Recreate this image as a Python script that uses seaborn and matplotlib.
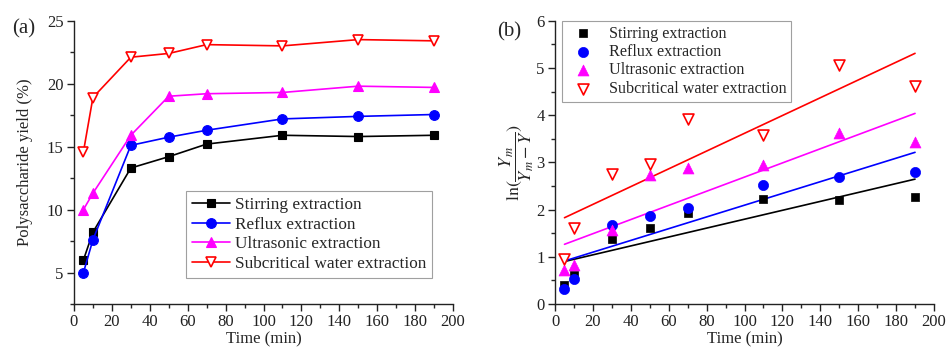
import numpy as np
import pandas as pd
import matplotlib
matplotlib.use("Agg")
import matplotlib.pyplot as plt
from matplotlib.ticker import MultipleLocator
import seaborn as sns

# ---------------- data ----------------
time = [5, 10, 30, 50, 70, 110, 150, 190]
series_names = ["Stirring extraction", "Reflux extraction",
                "Ultrasonic extraction", "Subcritical water extraction"]

# (a) polysaccharide yield (%)
yield_stirring = [6.0, 8.2, 13.3, 14.2, 15.2, 15.9, 15.8, 15.9]
yield_reflux = [5.0, 7.6, 15.1, 15.75, 16.3, 17.2, 17.4, 17.55]
yield_ultra = [10.0, 11.3, 15.9, 19.0, 19.2, 19.3, 19.8, 19.7]
yield_subcrit = [14.6, 18.9, 22.1, 22.4, 23.1, 23.0, 23.5, 23.4]

# (b) ln(Ym/(Ym-Y))
ln_stirring = [0.41, 0.61, 1.37, 1.60, 1.93, 2.23, 2.21, 2.26]
ln_reflux = [0.32, 0.53, 1.67, 1.86, 2.04, 2.53, 2.70, 2.79]
ln_ultra = [0.72, 0.82, 1.56, 2.74, 2.89, 2.95, 3.62, 3.43]
ln_subcrit = [0.96, 1.60, 2.75, 2.97, 3.91, 3.57, 5.06, 4.62]

yields = [yield_stirring, yield_reflux, yield_ultra, yield_subcrit]
lns = [ln_stirring, ln_reflux, ln_ultra, ln_subcrit]

colors = ["#000000", "#0000FF", "#FF00FF", "#FF0000"]
markers = ["s", "o", "^", "v"]
faces = ["#000000", "#0000FF", "#FF00FF", "white"]
msizes = [6, 7, 7.5, 7.5]

# ---------------- style ----------------
sns.set_theme(style="ticks")
plt.rcParams["font.family"] = ["Liberation Serif", "DejaVu Serif"]
plt.rcParams["mathtext.fontset"] = "stix"
plt.rcParams["axes.linewidth"] = 1.0

fig = plt.figure(figsize=(9.46, 3.57), dpi=100)
ax1 = fig.add_axes([0.0782, 0.1485, 0.4007, 0.7935])
ax2 = fig.add_axes([0.5867, 0.1485, 0.4006, 0.7935])

# ---------------- (a) ----------------
for name, y, c, m, fc, ms in zip(series_names, yields, colors, markers, faces, msizes):
    df = pd.DataFrame({"Time": time, "Value": y})
    sns.lineplot(data=df, x="Time", y="Value", ax=ax1, color=c, marker=m,
                 markersize=ms, markerfacecolor=fc, markeredgecolor=c,
                 markeredgewidth=1.2 if fc == "white" else 0.8,
                 linewidth=1.2, label=name, errorbar=None)

ax1.set_xlim(0, 200)
ax1.set_ylim(2.5, 25)
ax1.xaxis.set_major_locator(MultipleLocator(20))
ax1.xaxis.set_minor_locator(MultipleLocator(10))
ax1.yaxis.set_major_locator(MultipleLocator(5))
ax1.yaxis.set_minor_locator(MultipleLocator(2.5))
ax1.set_xlabel("Time (min)", fontsize=12, labelpad=1)
ax1.set_ylabel("Polysaccharide yield (%)", fontsize=12, labelpad=10)
leg1 = ax1.legend(loc="lower right", bbox_to_anchor=(0.945, 0.092), fontsize=12.4,
                  frameon=True, fancybox=False, edgecolor="#888888",
                  handlelength=2.2, handletextpad=0.3, borderpad=0.35,
                  labelspacing=0.2, numpoints=1, borderaxespad=0)
leg1.get_frame().set_linewidth(0.8)
fig.text(0.013, 0.92, "(a)", fontsize=15, ha="left", va="center")

# ---------------- (b) ----------------
for name, y, c, m, fc, ms in zip(series_names, lns, colors, markers, faces, msizes):
    df = pd.DataFrame({"Time": time, "Value": y})
    sns.scatterplot(data=df, x="Time", y="Value", ax=ax2, color=fc, marker=m,
                    s=ms ** 2 * 1.1, edgecolor=c,
                    linewidth=1.2 if fc == "white" else 0.5, label=name, zorder=3)
    sns.regplot(data=df, x="Time", y="Value", ax=ax2, scatter=False, ci=None,
                truncate=True, line_kws=dict(color=c, linewidth=1.2))

ax2.set_xlim(0, 200)
ax2.set_ylim(0, 6)
ax2.xaxis.set_major_locator(MultipleLocator(20))
ax2.xaxis.set_minor_locator(MultipleLocator(10))
ax2.yaxis.set_major_locator(MultipleLocator(1))
ax2.yaxis.set_minor_locator(MultipleLocator(0.5))
ax2.set_xlabel("Time (min)", fontsize=12, labelpad=1)
ax2.set_ylabel(r"$\ln(\dfrac{Y_m}{Y_m-Y})$", fontsize=13, labelpad=0)
leg2 = ax2.legend(loc="upper left", bbox_to_anchor=(0.018, 1.0), fontsize=11.6,
                  frameon=True, fancybox=False, edgecolor="#888888",
                  handlelength=2.0, handletextpad=0.6, borderpad=0.3,
                  labelspacing=0.15, scatterpoints=1, borderaxespad=0)
leg2.get_frame().set_linewidth(0.8)
fig.text(0.525, 0.91, "(b)", fontsize=15, ha="left", va="center")

for ax in (ax1, ax2):
    sns.despine(ax=ax)
    ax.tick_params(axis="both", which="major", direction="out", length=5,
                   width=1, labelsize=12, colors="#222222", pad=2.5)
    ax.tick_params(axis="both", which="minor", direction="out", length=3, width=1)
    for sp in ax.spines.values():
        sp.set_color("#222222")

fig.savefig("out.png", dpi=100)
